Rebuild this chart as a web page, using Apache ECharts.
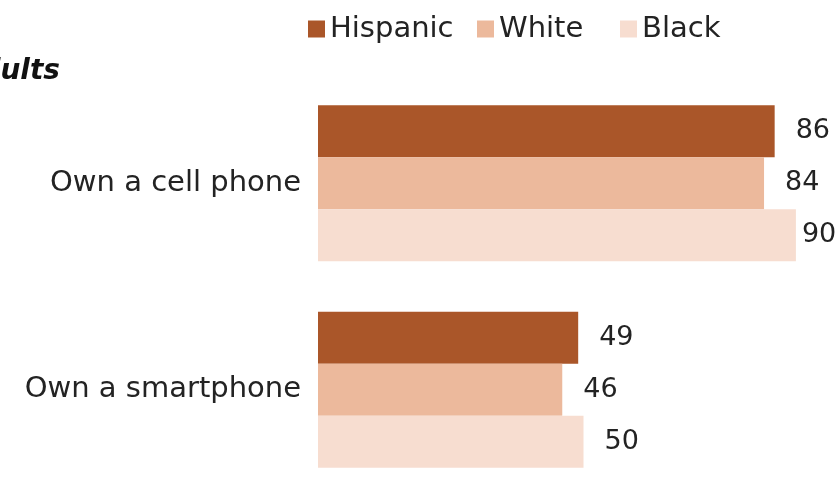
<!DOCTYPE html>
<html>
<head>
<meta charset="utf-8">
<script src="https://cdn.jsdelivr.net/npm/echarts@6/dist/echarts.min.js"></script>
<style>
  html, body { margin: 0; padding: 0; background: #ffffff; }
  #chart { width: 837px; height: 477px; }
</style>
</head>
<body>
<div id="chart"></div>
<script>
// Phone ownership by race/ethnicity, % of adults
const categories = ['Own a cell phone', 'Own a smartphone'];
const hispanic = [86, 49];
const white = [84, 46];
const black = [90, 50];

const seriesNames = ['Hispanic', 'White', 'Black'];
const seriesColors = ['#aa5629', '#ecb99c', '#f7ddd0'];
const seriesValues = [hispanic, white, black];

const FONT = '"DejaVu Sans", Verdana, sans-serif';
const TEXT = '#232323';

const chart = echarts.init(document.getElementById('chart'), null, { renderer: 'canvas' });

// one legend block per entry so each swatch sits where it belongs
const legendLefts = [308, 477, 620];
const legends = seriesNames.map((name, i) => ({
  data: [name],
  left: legendLefts[i],
  top: 12,
  padding: 0,
  itemWidth: 17,
  itemHeight: 17,
  icon: 'rect',
  selectedMode: false,
  textStyle: { fontFamily: FONT, fontSize: 29, color: TEXT, lineHeight: 34 }
}));

const series = seriesNames.map((name, i) => ({
  name: name,
  type: 'bar',
  barWidth: 52,
  barGap: '0%',
  itemStyle: { color: seriesColors[i] },
  label: {
    show: true,
    position: 'right',
    distance: 21,
    fontFamily: FONT,
    fontSize: 27,
    color: TEXT
  },
  // the widest bar's label is tucked in closer so it stays on the canvas
  data: seriesValues[i].map(v => v >= 90 ? { value: v, label: { distance: 6 } } : v)
}));

chart.setOption({
  animation: false,
  legend: legends,
  graphic: [{
    type: 'text',
    x: 60,
    y: 72,
    style: {
      text: 'All adults',
      fontFamily: FONT,
      fontSize: 28,
      fontWeight: 'bold',
      fontStyle: 'italic',
      fill: '#111111',
      textAlign: 'right',
      textVerticalAlign: 'middle'
    }
  }],
  // the plot area runs past the canvas edges, so it must not be pulled back inside
  grid: { left: 318, top: 80, width: 531, height: 413, outerBoundsMode: 'none' },
  xAxis: {
    type: 'value',
    min: 0,
    max: 100,
    show: false
  },
  yAxis: {
    type: 'category',
    data: categories,
    inverse: true,
    axisLine: { show: false },
    axisTick: { show: false },
    splitLine: { show: false },
    axisLabel: { fontFamily: FONT, fontSize: 29, color: TEXT, margin: 17 }
  },
  series: series
});
</script>
</body>
</html>
